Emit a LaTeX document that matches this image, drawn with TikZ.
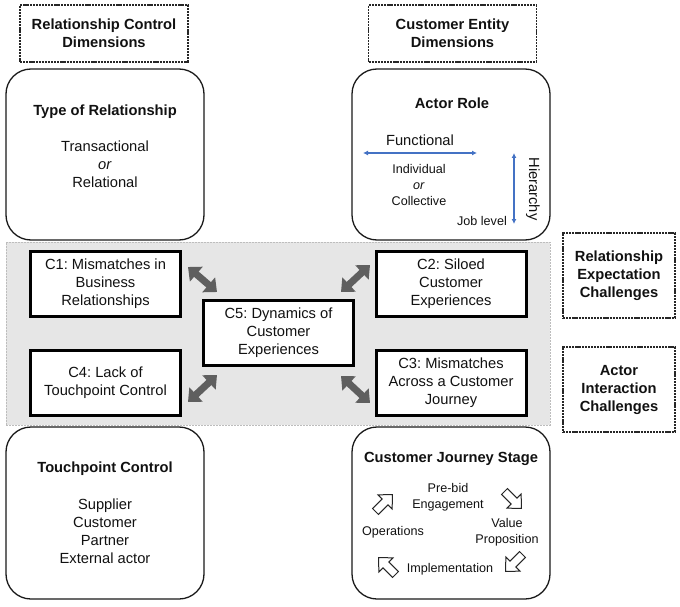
\documentclass[tikz,border=0pt]{standalone}
\usepackage{fontspec}
\setmainfont{Liberation Sans}
\usetikzlibrary{arrows.meta}
\definecolor{bandfill}{HTML}{E6E6E6}
\definecolor{banddraw}{HTML}{BDBDBD}
\definecolor{arrgray}{HTML}{5F5F5F}
\definecolor{arrblue}{HTML}{4472C4}
\definecolor{txt}{HTML}{111111}
\newcommand{\bigfont}{\fontsize{14.7}{18}\selectfont}
\newcommand{\smallfont}{\fontsize{12.6}{15.7}\selectfont}
\frenchspacing
\begin{document}
\begin{tikzpicture}[x=1pt,y=-1pt,
  every node/.style={text=txt,inner sep=0pt,align=center},
  hdrbox/.style={draw=black!85,line width=1.1pt,dash pattern=on 2.2pt off 0.9pt,minimum width=112pt,minimum height=85pt,font=\bigfont\bfseries},
  dimbox/.style={draw=black!90,line width=1.3pt,rounded corners=25pt,minimum width=198pt,minimum height=171pt},
  chalbox/.style={draw=black,line width=3pt,fill=white,minimum width=150pt,minimum height=65pt,font=\bigfont},
  title/.style={font=\bigfont\bfseries},
  body/.style={font=\bigfont},
  small/.style={font=\smallfont},
  gryarrow/.style={draw=arrgray,line width=7pt,{Triangle[length=11pt,width=19pt]}-{Triangle[length=11pt,width=19pt]}},
  bluearrow/.style={draw=arrblue,line width=1.2pt,{Latex[length=5pt,width=5pt]}-{Latex[length=5pt,width=5pt]}},
  hollow/.style={draw=black!85,line width=1pt,line join=miter}
]
\useasboundingbox (0,0) rectangle (680,607);

% header boxes
\node[hdrbox,minimum width=168pt,minimum height=57pt] (hdrL) at (104,33.5) {Relationship Control\\Dimensions};
\node[hdrbox,minimum width=168pt,minimum height=57pt] (hdrR) at (452.5,33.5) {Customer Entity\\Dimensions};

% gray band
\node[draw=banddraw,fill=bandfill,line width=1pt,dash pattern=on 2pt off 1pt,minimum width=544pt,minimum height=183pt] (band) at (278,333.5) {};

% dimension boxes
\node[dimbox] (rel) at (105,154.5) {};
\node[title] (relT) at (105,112) {Type of Relationship};
\node[body] (relB) at (105,164.5) {Transactional\\\textit{or}\\Relational};

\node[dimbox] (actor) at (451,154.5) {};
\node[title] (actT) at (452,103) {Actor Role};
\node[body] (func) at (420,140) {Functional};
\coordinate (hL) at (363,153);
\coordinate (hR) at (477,153);
\draw[bluearrow] (hL) -- (hR);
\node[small] (indiv) at (419,185) {Individual\\\textit{or}\\Collective};
\coordinate (vT) at (514,153);
\coordinate (vB) at (514,224);
\draw[bluearrow] (vT) -- (vB);
\node[body,rotate=-90] (hier) at (533,189) {Hierarchy};
\node[small] (job) at (482,221) {Job level};

\node[dimbox,minimum height=172pt] (touch) at (105,513) {};
\node[title] (touchT) at (105,469) {Touchpoint Control};
\node[body] (touchB) at (105,531.5) {Supplier\\Customer\\Partner\\External actor};

\node[dimbox,minimum height=172pt] (cjs) at (451,513) {};
\node[title] (cjsT) at (451,459) {Customer Journey Stage};
\node[small] (pre) at (448,497) {Pre-bid\\Engagement};
\node[small] (oper) at (393,532) {Operations};
\node[small] (val) at (507,532.5) {Value\\Proposition};
\node[small] (impl) at (450,569) {Implementation};
% hollow block arrows
\foreach \px/\py/\ang in {384/503/45, 513/500/-45, 514/563/-135, 387/566/135}{
  \draw[hollow,shift={(\px,\py)},rotate=\ang] (-12,-4.2) -- (1.5,-4.2) -- (1.5,-10) -- (12,0) -- (1.5,10) -- (1.5,4.2) -- (-12,4.2) -- cycle;
}

% challenge boxes
\node[chalbox] (c1) at (105.5,284) {C1: Mismatches in\\Business\\Relationships};
\node[chalbox] (c2) at (451,284) {C2: Siloed\\Customer\\Experiences};
\node[chalbox] (c4) at (105.5,382.5) {C4: Lack of\\Touchpoint Control};
\node[chalbox] (c3) at (451,382.5) {C3: Mismatches\\Across a Customer\\Journey};
\node[chalbox] (c5) at (278.5,333) {C5: Dynamics of\\Customer\\Experiences};

% gray double arrows
\coordinate (a1s) at (188,267); \coordinate (a1e) at (217,292);
\coordinate (a4s) at (188,402); \coordinate (a4e) at (217,375);
\coordinate (a2s) at (370,265); \coordinate (a2e) at (341,292);
\coordinate (a3s) at (370,403); \coordinate (a3e) at (341,376);
\draw[gryarrow] (a1s) -- (a1e);
\draw[gryarrow] (a4s) -- (a4e);
\draw[gryarrow] (a2s) -- (a2e);
\draw[gryarrow] (a3s) -- (a3e);

% right side labels
\node[hdrbox] (exp) at (619,275.5) {Relationship\\Expectation\\Challenges};
\node[hdrbox] (act) at (619,389.5) {Actor\\Interaction\\Challenges};
\end{tikzpicture}
\end{document}
